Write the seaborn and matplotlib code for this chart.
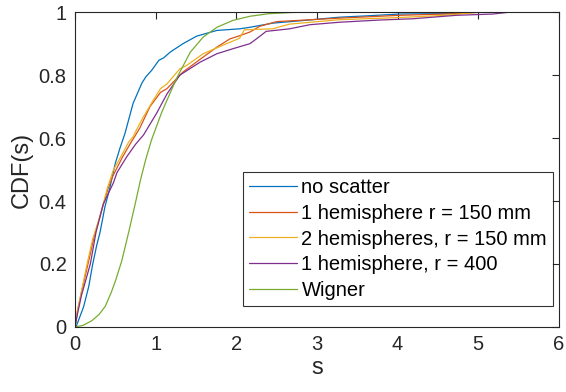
import numpy as np
import pandas as pd
import matplotlib
matplotlib.use("Agg")
import matplotlib.pyplot as plt
import seaborn as sns

# values (s, CDF(s))
s_noscatter = [0, 0.02, 0.045, 0.107, 0.17, 0.22, 0.27, 0.31, 0.37, 0.43, 0.50, 0.56, 0.62, 0.72, 0.83, 0.88,
               0.95, 1.04, 1.10, 1.18, 1.34, 1.51, 1.76, 2.04, 2.17, 2.45, 2.9, 3.28, 3.6, 4.03, 4.4, 4.73, 4.76]
cdf_noscatter = [0, 0.005, 0.022, 0.064, 0.128, 0.2, 0.26, 0.30, 0.38, 0.44, 0.52, 0.57, 0.615, 0.71, 0.775, 0.795,
                 0.815, 0.847, 0.855, 0.873, 0.90, 0.924, 0.942, 0.947, 0.952, 0.965, 0.975, 0.984, 0.988, 0.994, 0.995, 0.996, 1.0]

s_hemi150 = [0, 0.03, 0.08, 0.17, 0.24, 0.33, 0.41, 0.47, 0.51, 0.59, 0.68, 0.80, 0.93, 1.06, 1.14, 1.34,
             1.55, 1.76, 1.92, 2.04, 2.17, 2.29, 2.5, 3.28, 4.03, 4.7, 5.05]
cdf_hemi150 = [0, 0.05, 0.11, 0.21, 0.29, 0.37, 0.44, 0.48, 0.50, 0.54, 0.58, 0.63, 0.70, 0.745, 0.757, 0.81,
               0.85, 0.889, 0.915, 0.925, 0.937, 0.955, 0.97, 0.981, 0.99, 0.995, 1.0]

s_2hemi150 = [0, 0.03, 0.07, 0.15, 0.22, 0.31, 0.40, 0.475, 0.58, 0.665, 0.72, 0.79, 0.85, 0.97, 1.06, 1.14,
              1.30, 1.38, 1.59, 1.88, 2.04, 2.1, 2.45, 2.66, 3.28, 4.03, 4.6, 5.0]
cdf_2hemi150 = [0, 0.05, 0.1, 0.2, 0.28, 0.35, 0.44, 0.498, 0.546, 0.587, 0.604, 0.64, 0.668, 0.72, 0.757, 0.772,
                0.82, 0.83, 0.868, 0.90, 0.917, 0.944, 0.947, 0.962, 0.976, 0.983, 0.99, 1.0]

s_hemi400 = [0, 0.03, 0.08, 0.19, 0.26, 0.35, 0.475, 0.52, 0.64, 0.75, 0.85, 1.01, 1.14, 1.30, 1.55,
             1.76, 1.96, 2.17, 2.29, 2.37, 2.66, 2.91, 3.28, 3.78, 4.19, 4.73, 5.18, 5.39]
cdf_hemi400 = [0, 0.04, 0.1, 0.2, 0.3, 0.39, 0.457, 0.49, 0.54, 0.58, 0.61, 0.678, 0.74, 0.80, 0.841,
               0.868, 0.884, 0.90, 0.923, 0.939, 0.947, 0.96, 0.968, 0.975, 0.979, 0.99, 0.994, 1.0]

s_wigner = [0, 0.1, 0.21, 0.3, 0.376, 0.45, 0.5, 0.58, 0.665, 0.75, 0.81, 0.88, 0.95, 1.08, 1.26, 1.43,
            1.59, 1.76, 1.96, 2.17, 2.4, 2.7, 3.0, 4.9]
cdf_wigner = [0, 0.005, 0.02, 0.04, 0.066, 0.11, 0.145, 0.21, 0.30, 0.395, 0.465, 0.535, 0.595, 0.685, 0.79, 0.873,
              0.921, 0.952, 0.974, 0.987, 0.995, 0.999, 1.0, 1.0]

labels = ["no scatter", "1 hemisphere r = 150 mm", "2 hemispheres, r = 150 mm",
          "1 hemisphere, r = 400", "Wigner"]
colors = ["#0072BD", "#D95319", "#EDB120", "#7E2F8E", "#77AC30"]

series = [(s_noscatter, cdf_noscatter), (s_hemi150, cdf_hemi150), (s_2hemi150, cdf_2hemi150),
          (s_hemi400, cdf_hemi400), (s_wigner, cdf_wigner)]
df = pd.concat([pd.DataFrame({"s": s, "cdf": c, "curve": lab}) for (s, c), lab in zip(series, labels)],
               ignore_index=True)

sns.set_style("white")
plt.rcParams["font.family"] = ["Liberation Sans", "DejaVu Sans"]

fig = plt.figure(figsize=(5.66, 3.92), dpi=100)
ax = fig.add_axes([0.1325, 0.166, 0.855, 0.803])
sns.lineplot(data=df, x="s", y="cdf", hue="curve", hue_order=labels, palette=dict(zip(labels, colors)),
             estimator=None, sort=False, linewidth=0.9, ax=ax)

ax.set_xlim(0, 6)
ax.set_ylim(0, 1)
ax.set_xticks(range(7))
ax.set_yticks([0, 0.2, 0.4, 0.6, 0.8, 1])
ax.set_yticklabels(["0", "0.2", "0.4", "0.6", "0.8", "1"])
ax.tick_params(direction="in", length=5, width=0.8, color="#262626", labelsize=14.5,
               labelcolor="#262626", top=True, right=True, pad=6)
for sp in ax.spines.values():
    sp.set_visible(True)
    sp.set_color("#262626")
    sp.set_linewidth(0.8)
ax.set_xlabel("s", fontsize=17, color="#262626", labelpad=2)
ax.set_ylabel("CDF(s)", fontsize=17, color="#262626", labelpad=4)

leg = ax.legend(loc="lower right", bbox_to_anchor=(0.988, 0.067), borderaxespad=0, fontsize=14.5,
                frameon=True, fancybox=False, edgecolor="black", handlelength=2.4, handletextpad=0.2,
                labelspacing=0.33, borderpad=0.3, labelcolor="black")
leg.get_frame().set_linewidth(0.8)

fig.savefig("out.png", dpi=100)
